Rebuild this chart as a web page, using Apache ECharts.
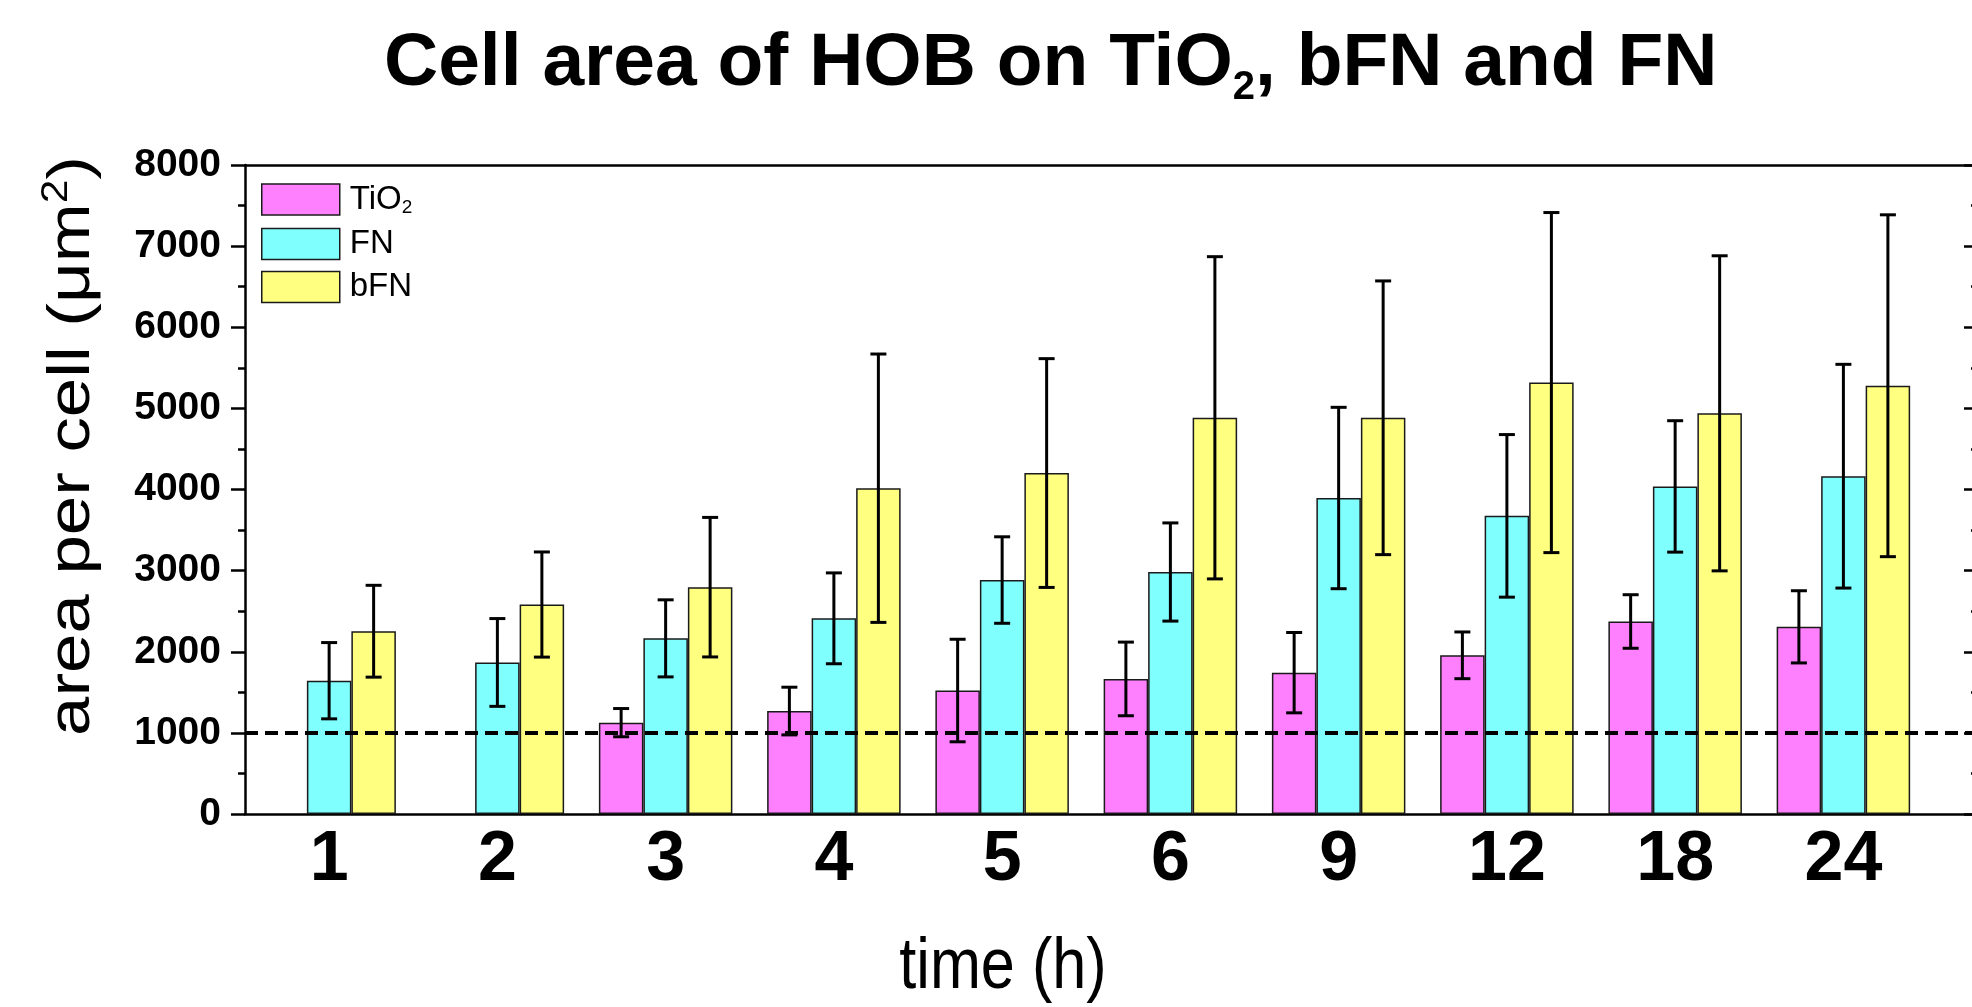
<!DOCTYPE html>
<html>
<head>
<meta charset="utf-8">
<script src="https://cdn.jsdelivr.net/npm/echarts@6/dist/echarts.min.js"></script>
<style>
  html, body { margin: 0; padding: 0; background: #fff; }
  #main { width: 1972px; height: 1007px; }
</style>
</head>
<body>
<div id="main"></div>
<script>
// time points (h) - x tick labels
const hours = ['1', '2', '3', '4', '5', '6', '9', '12', '18', '24'];
// mean cell area (µm²) and error (sd) for each surface
const tio2Mean = [null, null, 1126, 1269, 1522, 1665, 1742, 1956, 2373, 2307];
const tio2Err  = [null, null, 174, 294, 632, 454, 495, 288, 330, 445];
const fnMean   = [1643, 1868, 2165, 2412, 2884, 2983, 3895, 3675, 4038, 4164];
const fnErr    = [470, 541, 475, 560, 533, 605, 1118, 1002, 810, 1379];
const bfnMean  = [2253, 2582, 2796, 4016, 4203, 4884, 4884, 5318, 4939, 5279];
const bfnErr   = [566, 648, 860, 1654, 1410, 1986, 1687, 2096, 1942, 2107];
const refLine = 1000; // dashed reference

const FONT = 'Liberation Sans, Arial, sans-serif';
const BAR_W = 44.5;

const myChart = echarts.init(document.getElementById('main'));

// [x, value] pairs for bar series, skipping empty groups
const toBars = (m) => m.map((v, i) => [i + 1, v]).filter(d => d[1] != null);
// [x, low, high] for error bars
const toErr = (m, e) => m.map((v, i) => v == null ? null : [i + 1, v - e[i], v + e[i]]).filter(d => d);

const errSeries = (name, data, offset) => ({
  type: 'custom',
  name: name,
  xAxisIndex: 0,
  yAxisIndex: 0,
  z: 10,
  silent: true,
  encode: { x: 0, y: [1, 2] },
  data: data,
  renderItem: function (params, api) {
    let lo = api.coord([api.value(0), api.value(1)]);
    let hi = api.coord([api.value(0), api.value(2)]);
    let x = lo[0] + offset;
    let cap = 8;
    let st = { stroke: '#000', lineWidth: 3 };
    return {
      type: 'group',
      children: [
        { type: 'line', shape: { x1: x, y1: lo[1], x2: x, y2: hi[1] }, style: st },
        { type: 'line', shape: { x1: x - cap, y1: hi[1], x2: x + cap, y2: hi[1] }, style: st },
        { type: 'line', shape: { x1: x - cap, y1: lo[1], x2: x + cap, y2: lo[1] }, style: st }
      ]
    };
  }
});

const barStyle = (c) => ({ color: c, borderColor: '#1a1a1a', borderWidth: 1.5 });

let option = {
  backgroundColor: '#fff',
  animation: false,
  title: {
    text: '{m|Cell area of HOB on TiO}{s|2}{m|, bFN and FN}',
    left: 379,
    top: 15,
    textStyle: {
      rich: {
        m: { fontSize: 75, fontWeight: 'bold', lineHeight: 88, color: '#000', fontFamily: FONT },
        s: { fontSize: 40, fontWeight: 'bold', lineHeight: 4, verticalAlign: 'bottom', color: '#000', fontFamily: FONT }
      }
    }
  },
  // axis titles drawn as text so they can be stretched like the original
  graphic: [
    {
      type: 'text',
      x: 72,
      y: 446,
      rotation: Math.PI / 2,
      scaleX: 1.18,
      style: {
        text: '{m|area per cell (μm}{p|2}{m|)}',
        align: 'center',
        verticalAlign: 'middle',
        rich: {
          m: { fontSize: 60, lineHeight: 66, fill: '#000', fontFamily: FONT },
          p: { fontSize: 36, lineHeight: 30, verticalAlign: 'top', fill: '#000', fontFamily: FONT }
        }
      }
    },
    {
      type: 'text',
      x: 1003,
      y: 968,
      scaleX: 0.85,
      style: {
        text: 'time (h)',
        align: 'center',
        verticalAlign: 'middle',
        fontSize: 72,
        fontFamily: FONT,
        fill: '#000'
      }
    }
  ],
  legend: {
    orient: 'vertical',
    left: 256,
    top: 178,
    itemWidth: 78,
    itemHeight: 31,
    itemGap: 10,
    icon: 'rect',
    data: ['TiO2', 'FN', 'bFN'],
    itemStyle: { borderColor: '#1a1a1a', borderWidth: 1.5 },
    formatter: (name) => name === 'TiO2' ? '{t|TiO}{s|2}' : '{t|' + name + '}',
    textStyle: {
      padding: [0, 0, 0, 5],
      rich: {
        t: { fontSize: 33, lineHeight: 36, color: '#000', fontFamily: FONT },
        s: { fontSize: 19, lineHeight: 4, verticalAlign: 'bottom', color: '#000', fontFamily: FONT }
      }
    }
  },
  grid: { left: 245, right: -6, top: 165, bottom: 193, outerBoundsMode: 'none', containLabel: false },
  xAxis: [
    {
      type: 'value',
      position: 'bottom',
      min: 0.5,
      max: 10.8,
      axisLine: { show: true, onZero: false, lineStyle: { color: '#000', width: 2.5 } },
      axisTick: { show: false },
      splitLine: { show: false },
      axisLabel: {
        customValues: hours.map((h, i) => i + 1),
        formatter: (v) => hours[Math.round(v) - 1],
        fontSize: 70,
        fontWeight: 'bold',
        color: '#000',
        fontFamily: FONT,
        margin: 12
      }
    },
    {
      type: 'value',
      position: 'top',
      min: 0.5,
      max: 10.8,
      axisLine: { show: true, onZero: false, lineStyle: { color: '#000', width: 2.5 } },
      axisTick: { show: false },
      axisLabel: { show: false },
      splitLine: { show: false }
    }
  ],
  yAxis: [
    {
      type: 'value',
      position: 'left',
      min: 0,
      max: 8000,
      interval: 1000,
      axisLine: { show: true, onZero: false, lineStyle: { color: '#000', width: 2.5 } },
      axisTick: { show: true, length: 14, lineStyle: { color: '#000', width: 2.5 } },
      minorTick: { show: true, splitNumber: 2, length: 7, lineStyle: { color: '#000', width: 2.5 } },
      splitLine: { show: false },
      axisLabel: {
        fontSize: 39, fontWeight: 'bold', color: '#000', fontFamily: FONT, margin: 24,
        formatter: (v) => String(v)
      }
    },
    {
      type: 'value',
      position: 'right',
      min: 0,
      max: 8000,
      interval: 1000,
      axisLine: { show: true, onZero: false, lineStyle: { color: '#000', width: 2.5 } },
      axisTick: { show: true, inside: true, length: 14, lineStyle: { color: '#000', width: 2.5 } },
      minorTick: { show: true, splitNumber: 2, length: 7, lineStyle: { color: '#000', width: 2.5 } },
      splitLine: { show: false },
      axisLabel: { show: false }
    }
  ],
  series: [
    {
      type: 'bar', name: 'TiO2', barWidth: BAR_W, barGap: '0%',
      itemStyle: barStyle('#FF80FF'), data: toBars(tio2Mean),
      markLine: {
        silent: true, symbol: ['none', 'none'], z: 8,
        label: { show: false },
        lineStyle: { color: '#000', type: [13, 7], width: 4 },
        data: [{ yAxis: refLine }]
      }
    },
    { type: 'bar', name: 'FN', barWidth: BAR_W, barGap: '0%', itemStyle: barStyle('#80FFFF'), data: toBars(fnMean) },
    { type: 'bar', name: 'bFN', barWidth: BAR_W, barGap: '0%', itemStyle: barStyle('#FFFF80'), data: toBars(bfnMean) },
    errSeries('TiO2 err', toErr(tio2Mean, tio2Err), -BAR_W),
    errSeries('FN err', toErr(fnMean, fnErr), 0),
    errSeries('bFN err', toErr(bfnMean, bfnErr), BAR_W)
  ]
};
myChart.setOption(option);
</script>
</body>
</html>
